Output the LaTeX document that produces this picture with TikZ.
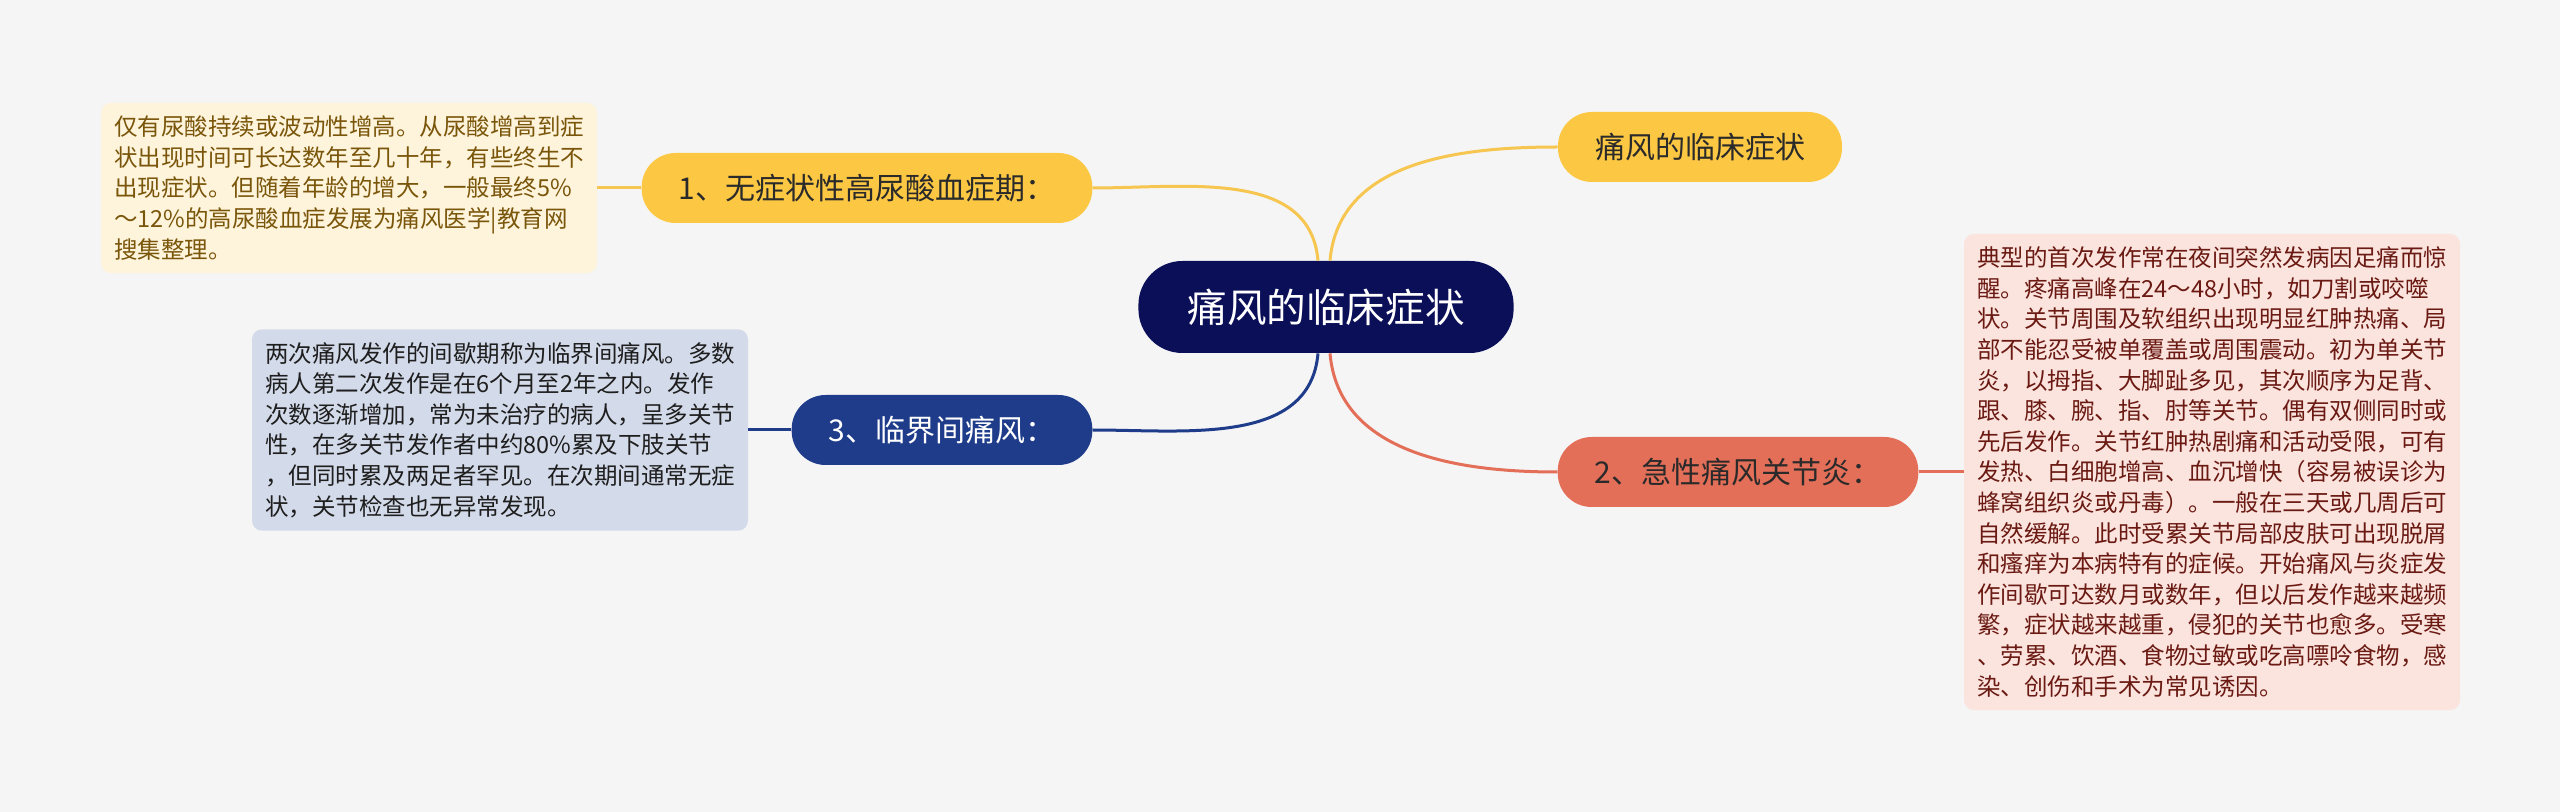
\documentclass[tikz,border=0pt]{standalone}
\usepackage{fontspec}
\setmainfont{Noto Sans CJK SC}
\usepackage{tikz}
\usetikzlibrary{positioning}
\usepackage{xcolor}
\definecolor{bggrey}{HTML}{F5F5F5}
\definecolor{rootnavy}{HTML}{0A0F58}
\definecolor{gold}{HTML}{FCC844}
\definecolor{goldline}{HTML}{F6C650}
\definecolor{deepblue}{HTML}{1F3C8A}
\definecolor{coral}{HTML}{E46F58}
\definecolor{cream}{HTML}{FEF4DC}
\definecolor{creamtext}{HTML}{7A560A}
\definecolor{slate}{HTML}{D3DAE9}
\definecolor{slatetext}{HTML}{1E1E1E}
\definecolor{blush}{HTML}{FBE3DE}
\definecolor{blushtext}{HTML}{6A1A12}
\definecolor{darktext}{HTML}{2A2A2A}

\begin{document}
\begin{tikzpicture}[x=0.5pt,y=-0.5pt,
  topic/.style={rounded corners=17pt,minimum height=35pt,inner xsep=18.5pt,inner ysep=0pt,font=\fontsize{15}{18}\selectfont},
  note/.style={rounded corners=5pt,inner xsep=6.5pt,inner ysep=6.5pt,text width=235pt,align=left,font=\fontsize{11.75}{15.3}\selectfont},
  link/.style={line width=1.5pt}]
\fill[bggrey] (0,0) rectangle (2560,812);
\useasboundingbox (0,0) rectangle (2560,812);

\node[fill=rootnavy,text=white,rounded corners=22pt,minimum height=46pt,inner xsep=24.5pt,font=\fontsize{19.8}{24}\selectfont] (root) at (1326,307) {痛风的临床症状};
\node[topic,fill=gold,text=darktext] (title) at (1700,147) {痛风的临床症状};
\node[topic,fill=gold,text=darktext] (stage1) at (867,188) {1、无症状性高尿酸血症期：};
\node[topic,fill=coral,text=darktext] (stage2) at (1738,472) {2、急性痛风关节炎：};
\node[topic,fill=deepblue,text=white] (stage3) at (942,430) {3、临界间痛风：};

\node[note,fill=cream,text=creamtext] (note1) at (349,188) {仅有尿酸持续或波动性增高。从尿酸增高到症\\状出现时间可长达数年至几十年，有些终生不\\出现症状。但随着年龄的增大，一般最终5\%\\～12\%的高尿酸血症发展为痛风医学|教育网\\搜集整理。};
\node[note,fill=slate,text=slatetext] (note3) at (500,430) {两次痛风发作的间歇期称为临界间痛风。多数\\病人第二次发作是在6个月至2年之内。发作\\次数逐渐增加，常为未治疗的病人，呈多关节\\性，在多关节发作者中约80\%累及下肢关节\\，但同时累及两足者罕见。在次期间通常无症\\状，关节检查也无异常发现。};
\node[note,fill=blush,text=blushtext] (note2) at (2212,472) {典型的首次发作常在夜间突然发病因足痛而惊\\醒。疼痛高峰在24～48小时，如刀割或咬噬\\状。关节周围及软组织出现明显红肿热痛、局\\部不能忍受被单覆盖或周围震动。初为单关节\\炎，以拇指、大脚趾多见，其次顺序为足背、\\跟、膝、腕、指、肘等关节。偶有双侧同时或\\先后发作。关节红肿热剧痛和活动受限，可有\\发热、白细胞增高、血沉增快（容易被误诊为\\蜂窝组织炎或丹毒）。一般在三天或几周后可\\自然缓解。此时受累关节局部皮肤可出现脱屑\\和瘙痒为本病特有的症候。开始痛风与炎症发\\作间歇可达数月或数年，但以后发作越来越频\\繁，症状越来越重，侵犯的关节也愈多。受寒\\、劳累、饮酒、食物过敏或吃高嘌呤食物，感\\染、创伤和手术为常见诱因。};

\draw[link,goldline] ([xshift=-4pt]root.north) to[out=95,in=0] (stage1.east);
\draw[link,goldline] ([xshift=2pt]root.north) to[out=85,in=180] (title.west);
\draw[link,deepblue] ([xshift=-4pt]root.south) to[out=-95,in=0] (stage3.east);
\draw[link,coral] ([xshift=2pt]root.south) to[out=-85,in=180] (stage2.west);
\draw[link,goldline] (stage1.west) -- (note1.east);
\draw[link,deepblue] (stage3.west) -- (note3.east);
\draw[link,coral] (stage2.east) -- (note2.west);
\end{tikzpicture}
\end{document}
